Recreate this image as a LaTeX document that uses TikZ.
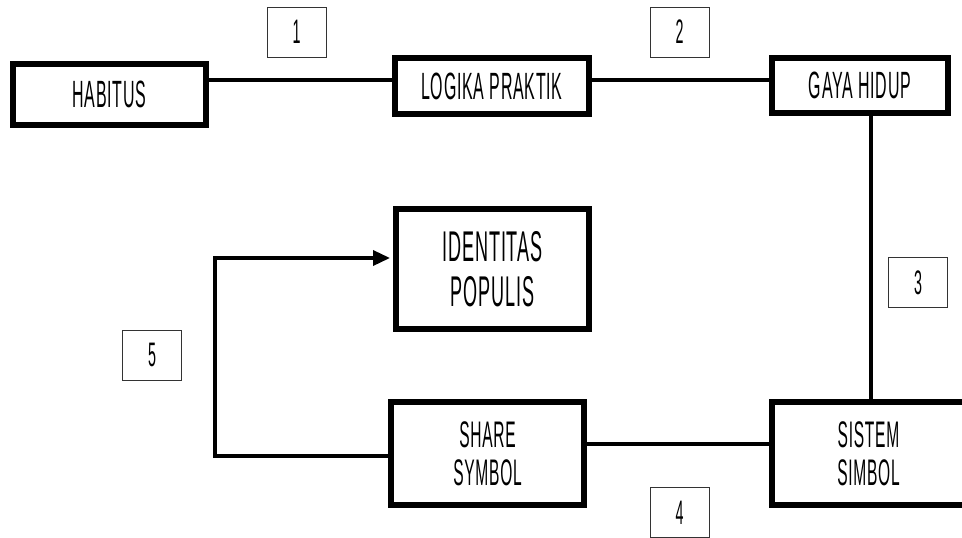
\documentclass[tikz,border=0pt]{standalone}
\usepackage{fontspec}
\setmainfont{Liberation Sans}[FakeStretch=0.42,LetterSpace=2]
\usetikzlibrary{arrows.meta,calc}
\tikzset{
  mainbox/.style={draw, line width=6pt, inner sep=0pt, align=center, font=\fontsize{38}{46}\selectfont},
  numbox/.style={draw=black!80, line width=1pt, inner sep=0pt, minimum width=59pt, minimum height=50pt, font=\fontsize{34}{40}\selectfont},
  conn/.style={line width=3.5pt},
}
\begin{document}
\begin{tikzpicture}[x=1pt,y=-1pt]
\useasboundingbox (0,0) rectangle (962,538);
% main boxes
\node[mainbox, minimum width=193pt, minimum height=61pt] (hab) at (109.5,94.5) {HABITUS};
\node[mainbox, minimum width=194pt, minimum height=56pt] (log) at (492,86) {LOGIKA PRAKTIK};
\node[mainbox, minimum width=176pt, minimum height=55pt] (gaya) at (860,85.5) {GAYA HIDUP};
\node[mainbox, minimum width=193pt, minimum height=120pt, font=\fontsize{43}{45}\selectfont] (iden) at (492.5,269) {IDENTITAS\\POPULIS};
\node[mainbox, minimum width=193pt, minimum height=103pt, font=\fontsize{37}{38}\selectfont] (share) at (487.5,453.5) {SHARE\\SYMBOL};
\node[mainbox, minimum width=193pt, minimum height=103pt, font=\fontsize{37}{38}\selectfont] (sistem) at (868.5,453.5) {SISTEM\\SIMBOL};
% number labels
\node[numbox] (l1) at (296.5,32) {1};
\node[numbox] (l2) at (679.5,32) {2};
\node[numbox] (l3) at (918,282.5) {3};
\node[numbox] (l4) at (679.5,512.5) {4};
\node[numbox] (l5) at (152,355) {5};
% helper coordinates
\coordinate (r80) at (0,80);
\coordinate (v871) at (871,0);
\coordinate (r444) at (0,444);
\coordinate (r456) at (0,456);
\coordinate (bend) at (215,258);
% connectors
\draw[conn] (hab.east |- r80) -- (log.west |- r80);
\draw[conn] (log.east |- r80) -- (gaya.west |- r80);
\draw[conn] (gaya.south -| v871) -- (sistem.north -| v871);
\draw[conn] (share.east |- r444) -- (sistem.west |- r444);
\draw[conn, line join=miter, -{Triangle[length=17pt,width=15pt]}, shorten >=3pt]
  (share.west |- r456) -| (bend) -- (iden.west |- bend);
\end{tikzpicture}
\end{document}
